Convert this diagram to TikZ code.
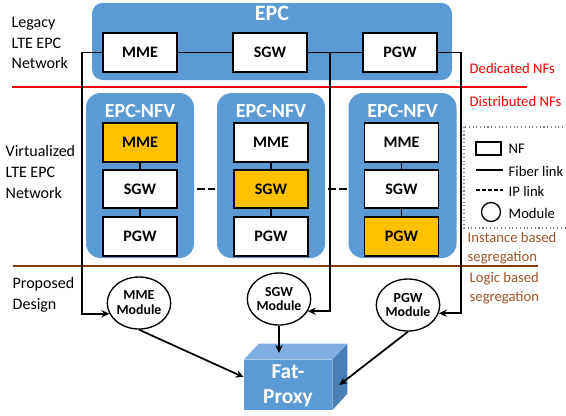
\documentclass[tikz,border=0pt]{standalone}
\usepackage{fontspec}
\setmainfont{Carlito}
\usepackage{tikz}
\usetikzlibrary{shapes.geometric, arrows.meta}
\definecolor{epcblue}{HTML}{5B9BD5}
\definecolor{proxytopc}{HTML}{7EAFE0}
\definecolor{proxysidec}{HTML}{4A80B8}
\definecolor{nfgold}{HTML}{FFC000}
\definecolor{sepbrown}{HTML}{843C0C}
\definecolor{segbrown}{HTML}{A0522D}
\tikzstyle{epcbox} = [rectangle, rounded corners=8pt, fill=epcblue, draw=none]
\tikzstyle{nfvbox} = [rectangle, rounded corners=11pt, fill=epcblue, draw=none, minimum width=81pt, minimum height=123.75pt]
\tikzstyle{boxtitle} = [text=white, font=\bfseries\fontsize{15}{15}\selectfont]
\tikzstyle{nf} = [rectangle, minimum width=55.5pt, minimum height=29pt, text centered, draw=black, line width=1.3pt, fill=white, font=\bfseries\fontsize{12}{12}\selectfont]
\tikzstyle{active} = [nf, fill=nfgold]
\tikzstyle{module} = [ellipse, minimum width=35.25pt, minimum height=39pt, inner sep=0pt, draw=black, line width=1pt, fill=white, align=center, font=\bfseries\fontsize{10.4}{11.2}\selectfont]
\tikzstyle{fiber} = [line width=1.3pt]
\tikzstyle{iplink} = [line width=1.8pt, dash pattern=on 6pt off 2.5pt]
\tikzstyle{arrow} = [line width=1.3pt,-{Stealth[length=6pt,width=5.5pt]}]
\tikzstyle{sidelabel} = [anchor=west, align=left, font=\fontsize{12}{15.4}\selectfont]
\tikzstyle{seglabel} = [anchor=west, align=left, font=\fontsize{11}{14}\selectfont]
\tikzstyle{legtext} = [anchor=west, font=\fontsize{11}{12}\selectfont]

\begin{document}
\begin{tikzpicture}[x=0.75pt, y=-0.75pt]
    \useasboundingbox (0,0) rectangle (566,415);

    % legacy EPC
    \node (epc) [epcbox, minimum width=270pt, minimum height=57.75pt] at (272,41.5) {};
    \node (epctitle) [boxtitle, font=\bfseries\fontsize{16.5}{16.5}\selectfont] at (272,13) {EPC};
    \node (lmme) [nf] at (140,52.5) {MME};
    \node (lsgw) [nf] at (270,52.5) {SGW};
    \node (lpgw) [nf] at (400,52.5) {PGW};

    % EPC-NFV instances
    \node (nfv1) [nfvbox] at (140,175.5) {};
    \node (nfv2) [nfvbox] at (271,175.5) {};
    \node (nfv3) [nfvbox] at (402.5,175.5) {};
    \node (nfvtitle1) [boxtitle] at (140,111) {EPC-NFV};
    \node (nfvtitle2) [boxtitle] at (271,111) {EPC-NFV};
    \node (nfvtitle3) [boxtitle] at (402.5,111) {EPC-NFV};
    \node (mme1) [active] at (140,142.5) {MME};
    \node (sgw1) [nf] at (140,189) {SGW};
    \node (pgw1) [nf] at (140,236.5) {PGW};
    \node (mme2) [nf] at (271,142.5) {MME};
    \node (sgw2) [active] at (271,189) {SGW};
    \node (pgw2) [nf] at (271,236.5) {PGW};
    \node (mme3) [nf] at (401.5,142.5) {MME};
    \node (sgw3) [nf] at (401.5,189) {SGW};
    \node (pgw3) [active] at (401.5,236.5) {PGW};

    % modules and proxy
    \node (mmemod) [module] at (139,303) {MME\\Module};
    \node (sgwmod) [module] at (279,299) {SGW\\Module};
    \node (pgwmod) [module] at (408,305) {PGW\\Module};
    \node (proxy) [rectangle, fill=epcblue, minimum width=66pt, minimum height=37.5pt] at (288,385) {};
    \fill [proxytopc] (proxy.north west) -- ++(15,-16) -- ++(88,0) -- (proxy.north east) -- cycle;
    \fill [proxysidec] (proxy.north east) -- ++(15,-16) -- ++(0,50) -- (proxy.south east) -- cycle;
    \node (proxytext) [text=white, align=center, font=\bfseries\fontsize{16}{19}\selectfont] at (288,386) {Fat-\\Proxy};
    \coordinate (proxytop) at (296,353);
    \coordinate (proxyside) at ([xshift=5.25pt]proxy.east);

    % separators
    \draw [red, line width=1.3pt] (12,87) -- (527,87);
    \draw [sepbrown, line width=2pt] (13,266) -- (538,266);

    % side labels
    \node (legacylabel) [sidelabel] at (7,43) {Legacy\\LTE EPC\\Network};
    \node (virtlabel) [sidelabel] at (1,172) {Virtualized\\LTE EPC\\Network};
    \node (proplabel) [sidelabel] at (8,295) {Proposed\\Design};
    \node (dedicated) [seglabel, text=red] at (465,68) {Dedicated NFs};
    \node (distributed) [seglabel, text=red] at (465,101) {Distributed NFs};
    \node (instance) [seglabel, text=segbrown] at (463,248) {Instance based\\segregation};
    \node (logic) [seglabel, text=segbrown] at (465,288) {Logic based\\segregation};

    % legend
    \draw [gray, dotted, thick] (464,127) rectangle (575,228);
    \node (legnf) [rectangle, draw=black, line width=1.2pt, minimum width=18.75pt, minimum height=9.75pt] at (488.5,148.5) {};
    \node (legnftext) [legtext] at (504,149) {NF};
    \coordinate (fibera) at (476,170);
    \coordinate (fiberb) at (503,170);
    \draw [fiber] (fibera) -- (fiberb);
    \node (legfiber) [legtext] at (504,171) {Fiber link};
    \coordinate (ipa) at (476,190);
    \coordinate (ipb) at (503,190);
    \draw [line width=1.3pt, dash pattern=on 3pt off 1.5pt] (ipa) -- (ipb);
    \node (legip) [legtext] at (504,191) {IP link};
    \node (legmod) [circle, draw=black, line width=1pt, minimum size=14.25pt, inner sep=0pt] at (491,212) {};
    \node (legmodtext) [legtext] at (504,213) {Module};

    % links
    \draw [fiber] (lmme) -- (lsgw);
    \draw [fiber] (lsgw) -- (lpgw);
    \draw [fiber] (mme1) -- (sgw1);
    \draw [fiber] (sgw1) -- (pgw1);
    \draw [fiber] (mme2) -- (sgw2);
    \draw [fiber] (sgw2) -- (pgw2);
    \draw [fiber] (mme3) -- (sgw3);
    \draw [fiber] (sgw3) -- (pgw3);
    \draw [iplink, shorten <=2pt, shorten >=1pt] (nfv1.east |- sgw1) -- (nfv2.west |- sgw2);
    \draw [iplink, shorten <=2pt, shorten >=1pt] (nfv2.east |- sgw2) -- (nfv3.west |- sgw3);
    \draw [arrow] (lmme.west) -- ++(-20,0) |- (mmemod.200);
    \draw [arrow] (lsgw.east) -- ++(22,0) |- (sgwmod.337);
    \draw [arrow] (lpgw.east) -- ++(23,0) |- (pgwmod.345);
    \draw [arrow] (mmemod.south) -- (proxy.170);
    \draw [arrow] (sgwmod.south) -- (sgwmod.south |- proxytop);
    \draw [arrow] (pgwmod.south) -- (proxyside);
\end{tikzpicture}
\end{document}
